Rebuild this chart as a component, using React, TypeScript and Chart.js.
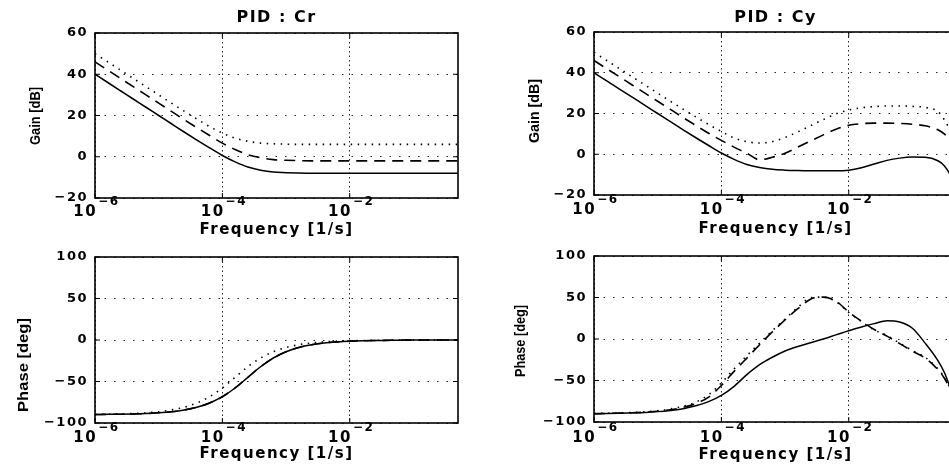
import React, { useEffect, useRef } from 'react';
import { Chart, registerables } from 'chart.js';

Chart.register(...registerables);

// Frequency grid [1/s]
const freq = [
  1e-6, 1.585e-6, 2.512e-6, 3.981e-6, 6.31e-6,
  1e-5, 1.585e-5, 2.512e-5, 3.981e-5, 6.31e-5,
  1e-4, 1.585e-4, 2.512e-4, 3.981e-4, 6.31e-4,
  1e-3, 1.585e-3, 2.512e-3, 3.981e-3, 6.31e-3,
  1e-2, 1.585e-2, 2.512e-2, 3.981e-2, 6.31e-2,
  0.1, 0.1585, 0.2512, 0.3162, 0.3981, 0.5012,
];

// PID : Cr  gain [dB]
const crGainSolid = [40, 36, 32, 28, 24, 20, 16, 12, 8.1, 4.3, 0.6, -2.5, -5, -6.5, -7.4, -7.7, -7.9, -8, -8, -8, -8, -8, -8, -8, -8, -8, -8, -8, -8, -8, -8];
const crGainDashed = [46, 42, 38, 34, 30, 26, 22, 18, 14.1, 10.3, 6.6, 3.5, 1, -0.5, -1.4, -1.7, -1.9, -2, -2, -2, -2, -2, -2, -2, -2, -2, -2, -2, -2, -2, -2];
const crGainDotted = [50, 46, 42, 38, 34, 30, 26, 22.1, 18.3, 14.6, 11.5, 9, 7.5, 6.6, 6.3, 6.1, 6, 6, 6, 6, 6, 6, 6, 6, 6, 6, 6, 6, 6, 6, 6];

// PID : Cr  phase [deg]
const crPhaseSolid = [-89.8, -89.6, -89.4, -89.1, -88.6, -87.7, -86.4, -84.3, -81, -75.9, -68.3, -57.8, -45, -32.2, -21.7, -14.1, -9, -5.7, -3.6, -2.3, -1.4, -0.9, -0.6, -0.4, -0.2, -0.1, 0, 0, 0, 0, 0];
const crPhaseDashed = [-89.8, -89.6, -89.4, -89.1, -88.6, -87.7, -86.4, -84.3, -81, -75.9, -68.3, -57.8, -45, -32.2, -21.7, -14.1, -9, -5.7, -3.6, -2.3, -1.4, -0.9, -0.6, -0.4, -0.2, -0.1, 0, 0, 0, 0, 0];
const crPhaseDotted = [-89.6, -89.4, -89.1, -88.6, -87.7, -86.4, -84.3, -81, -75.9, -68.3, -57.8, -45, -32.2, -21.7, -14.1, -9, -5.7, -3.6, -2.3, -1.4, -0.9, -0.6, -0.4, -0.2, -0.1, 0, 0, 0, 0, 0, 0];

// PID : Cy  gain [dB]
const cyGainSolid = [40, 36, 32, 28, 24, 20, 16, 12, 8.1, 4.3, 0.6, -2.5, -5, -6.5, -7.4, -7.8, -8, -8.1, -8.1, -8.1, -7.8, -6.6, -4.8, -3, -1.9, -1.4, -1.5, -3.2, -5.6, -10.5, -19];
const cyGainDashed = [46, 42, 38, 34, 30, 26, 22, 18, 14.1, 10.3, 6.8, 3.5, 0.5, -2.7, -1.5, 0.5, 3.5, 6.5, 9.5, 12.3, 14.2, 15, 15.3, 15.3, 15.1, 14.7, 14, 12, 10, 6.5, 0];
const cyGainDotted = [50, 46, 42, 38, 34, 30, 26, 22.1, 18.3, 14.6, 11.2, 8, 6.2, 5.5, 6.2, 8.2, 11, 14, 17, 19.8, 21.7, 22.8, 23.4, 23.7, 23.7, 23.5, 23, 21, 17, 11, 3];

// PID : Cy  phase [deg]
const cyPhaseSolid = [-90, -89.8, -89.5, -89, -88.5, -87.5, -86, -84, -80.5, -75.5, -68, -57, -43, -31, -22, -14.5, -9, -4.5, 0, 5, 10, 14.5, 18.5, 22, 20.5, 13, -5, -26, -40, -60, -82];
const cyPhaseDashed = [-90, -89.7, -89.3, -88.9, -88.1, -87, -85.2, -82.3, -77.8, -70, -56, -39, -23, -7, 8.5, 23, 36.5, 48, 50.5, 45.5, 32.5, 21.5, 11.5, 3.5, -5.5, -14.5, -23, -37, -47, -62, -81];
const cyPhaseDotted = [-89.6, -89.4, -89.1, -88.6, -87.7, -86.4, -84.3, -81, -76, -67, -53, -36, -20, -5, 10, 24, 38, 49.5, 50.5, 45, 32, 21, 11, 4, -5, -14, -22, -36, -46, -61, -80];

// Axis ticks
const xTickValues = [1e-6, 1e-4, 1e-2];
const xTickBase = '10';
const xTickExponents = ['\u22126', '\u22124', '\u22122'];
const gainTicks = [-20, 0, 20, 40, 60];
const phaseTicks = [-100, -50, 0, 50, 100];

const FREQ_MIN = 1e-6;
const FREQ_MAX = 0.5012;

const SOLID: number[] = [];
const DASHED = [11, 7];
const DOTTED = [1.5, 5.5];

const FONT = '"DejaVu Sans", Verdana, sans-serif';
const SPACING = '1.5px';

type Series = { values: number[]; dash: number[] };
type PanelDef = {
  left: number; top: number; width: number; height: number;
  area: { l: number; r: number; t: number; b: number };
  title?: string; titlePad?: { top: number; bottom: number };
  yTitle: string; yTitleX: number; yTitleY: number; yTitleLen: number;
  xTickBaseline: number; xTitlePad: number;
  yMin: number; yMax: number; yTicks: number[];
  series: Series[];
};

const panels: PanelDef[] = [
  {
    left: 0, top: 0, width: 470, height: 240,
    area: { l: 95, r: 458, t: 33, b: 198 },
    title: 'PID : Cr', titlePad: { top: 8.1, bottom: 5.7 },
    yTitle: 'Gain [dB]', yTitleX: 36, yTitleY: 116, yTitleLen: 58,
    xTickBaseline: 18, xTitlePad: 0.4,
    yMin: -20, yMax: 60, yTicks: gainTicks,
    series: [
      { values: crGainDotted, dash: DOTTED },
      { values: crGainDashed, dash: DASHED },
      { values: crGainSolid, dash: SOLID },
    ],
  },
  {
    left: 470, top: 0, width: 500, height: 240,
    area: { l: 124, r: 487, t: 32, b: 195 },
    title: 'PID : Cy', titlePad: { top: 8.4, bottom: 4.4 },
    yTitle: 'Gain [dB]', yTitleX: 65, yTitleY: 111, yTitleLen: 64,
    xTickBaseline: 19, xTitlePad: 1.5,
    yMin: -20, yMax: 60, yTicks: gainTicks,
    series: [
      { values: cyGainDotted, dash: DOTTED },
      { values: cyGainDashed, dash: DASHED },
      { values: cyGainSolid, dash: SOLID },
    ],
  },
  {
    left: 0, top: 240, width: 470, height: 226,
    area: { l: 95, r: 458, t: 17, b: 183 },
    yTitle: 'Phase [deg]', yTitleX: 24, yTitleY: 125, yTitleLen: 94,
    xTickBaseline: 19, xTitlePad: 2.5,
    yMin: -100, yMax: 100, yTicks: phaseTicks,
    series: [
      { values: crPhaseDotted, dash: DOTTED },
      { values: crPhaseDashed, dash: DASHED },
      { values: crPhaseSolid, dash: SOLID },
    ],
  },
  {
    left: 470, top: 240, width: 500, height: 226,
    area: { l: 124, r: 487, t: 16, b: 182 },
    yTitle: 'Phase [deg]', yTitleX: 51, yTitleY: 101, yTitleLen: 72,
    xTickBaseline: 20, xTitlePad: 2,
    yMin: -100, yMax: 100, yTicks: phaseTicks,
    series: [
      { values: cyPhaseDotted, dash: DOTTED },
      { values: cyPhaseDashed, dash: DASHED },
      { values: cyPhaseSolid, dash: SOLID },
    ],
  },
];

function Panel({ p }: { p: PanelDef }) {
  const ref = useRef<HTMLCanvasElement>(null);

  useEffect(() => {
    const canvas = ref.current;
    if (!canvas) return;

    const framePlugin = {
      id: 'matlabFrame',
      beforeDraw(chart: any) {
        chart.ctx.letterSpacing = SPACING;
      },
      afterDraw(chart: any) {
        const ctx = chart.ctx as CanvasRenderingContext2D;
        const a = chart.chartArea;
        const ys = chart.scales.y;
        const xs = chart.scales.x;
        ctx.save();
        (ctx as any).letterSpacing = '0px';
        ctx.setLineDash([]);
        ctx.strokeStyle = '#000';
        ctx.lineWidth = 1.6;
        ctx.strokeRect(a.left, a.top, a.right - a.left, a.bottom - a.top);
        ctx.lineWidth = 1;
        ctx.beginPath();
        for (const t of ys.ticks) {
          const py = ys.getPixelForValue(t.value);
          ctx.moveTo(a.left, py); ctx.lineTo(a.left + 5, py);
          ctx.moveTo(a.right, py); ctx.lineTo(a.right - 5, py);
        }
        for (const t of xs.ticks) {
          const px = xs.getPixelForValue(t.value);
          ctx.moveTo(px, a.bottom); ctx.lineTo(px, a.bottom - 5);
          ctx.moveTo(px, a.top); ctx.lineTo(px, a.top + 5);
        }
        ctx.stroke();

        // x tick labels: 10 with superscript exponent
        ctx.fillStyle = '#000';
        ctx.textBaseline = 'alphabetic';
        ctx.textAlign = 'left';
        (ctx as any).letterSpacing = SPACING;
        const baseFont = `bold 15px ${FONT}`;
        const expFont = `bold 12px ${FONT}`;
        for (const t of xs.ticks) {
          const i = xTickValues.findIndex((v) => Math.abs(v - t.value) / v < 1e-6);
          if (i < 0) continue;
          const px = xs.getPixelForValue(t.value);
          ctx.font = baseFont;
          const wb = ctx.measureText(xTickBase).width;
          ctx.font = expFont;
          const we = ctx.measureText(xTickExponents[i]).width;
          const x0 = px - (wb + we) / 2 + 1;
          const yb = a.bottom + p.xTickBaseline;
          ctx.font = baseFont;
          ctx.fillText(xTickBase, x0, yb);
          ctx.font = expFont;
          ctx.fillText(xTickExponents[i], x0 + wb + 1, yb - 11);
        }

        // y axis title
        (ctx as any).letterSpacing = '0px';
        ctx.font = 'bold 14px "Liberation Sans", Arial, sans-serif';
        const w = ctx.measureText(p.yTitle).width;
        ctx.translate(p.yTitleX, p.yTitleY);
        ctx.rotate(-Math.PI / 2);
        ctx.scale(p.yTitleLen / w, 1);
        ctx.textAlign = 'center';
        ctx.textBaseline = 'middle';
        ctx.fillText(p.yTitle, 0, 0);
        ctx.restore();
      },
    };

    const chart = new Chart(canvas, {
      type: 'line',
      data: {
        datasets: p.series.map((s) => ({
          data: freq.map((f, i) => ({ x: f, y: s.values[i] })),
          borderColor: '#000',
          borderWidth: s.dash.length ? 1.6 : 1.5,
          borderDash: s.dash,
          pointRadius: 0,
          fill: false,
          tension: 0,
          cubicInterpolationMode: 'monotone' as const,
        })),
      },
      options: {
        responsive: false,
        animation: false,
        events: [],
        layout: {
          padding: { left: 0, right: p.width - p.area.r, top: p.title ? 0 : p.area.t, bottom: 0 },
        },
        plugins: {
          legend: { display: false },
          tooltip: { enabled: false },
          title: {
            display: !!p.title,
            text: p.title || '',
            fullSize: false,
            color: '#000',
            font: { family: FONT, size: 16, weight: 'bold', lineHeight: 1.2 },
            padding: p.titlePad || { top: 0, bottom: 0 },
          },
        },
        scales: {
          x: {
            type: 'logarithmic',
            position: 'bottom',
            min: FREQ_MIN,
            max: FREQ_MAX,
            afterBuildTicks: (s: any) => {
              s.ticks = xTickValues.map((v) => ({ value: v }));
            },
            afterFit: (s: any) => {
              s.height = p.height - p.area.b;
            },
            grid: { color: '#222', lineWidth: 1, drawTicks: false },
            border: { display: false, dash: [1.5, 3] },
            ticks: { display: false, autoSkip: false, maxRotation: 0, minRotation: 0 },
            title: {
              display: true,
              text: 'Frequency [1/s]',
              color: '#000',
              font: { family: FONT, size: 15, weight: 'bold', lineHeight: 1.2 },
              padding: { top: 0, bottom: p.xTitlePad },
            },
          },
          y: {
            type: 'linear',
            position: 'left',
            min: p.yMin,
            max: p.yMax,
            afterBuildTicks: (s: any) => {
              s.ticks = p.yTicks.map((v) => ({ value: v }));
            },
            afterFit: (s: any) => {
              s.width = p.area.l;
            },
            grid: { color: '#222', lineWidth: 1, drawTicks: false },
            border: { display: false, dash: [1.5, 8] },
            ticks: {
              padding: 7,
              color: '#000',
              font: { family: FONT, size: 13, weight: 'bold', lineHeight: 1.2 },
              callback: (v: any) => String(v).replace('-', '\u2212'),
            },
          },
        },
      },
      plugins: [framePlugin],
    } as any);

    return () => chart.destroy();
  }, [p]);

  return (
    <canvas
      ref={ref}
      width={p.width}
      height={p.height}
      style={{ position: 'absolute', left: p.left, top: p.top, width: p.width, height: p.height }}
    />
  );
}

export default function App() {
  return (
    <div
      style={{
        position: 'absolute',
        left: 0,
        top: 0,
        width: 949,
        height: 466,
        overflow: 'hidden',
        background: '#fff',
      }}
    >
      {panels.map((p, i) => (
        <Panel key={i} p={p} />
      ))}
    </div>
  );
}
